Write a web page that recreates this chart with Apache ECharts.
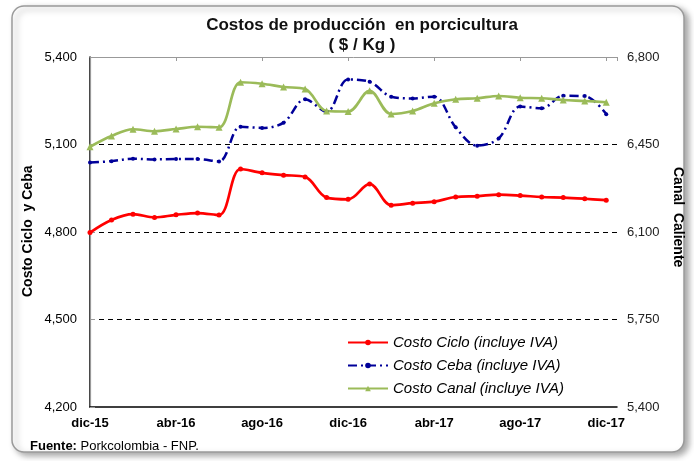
<!DOCTYPE html>
<html>
<head>
<meta charset="utf-8">
<script src="https://cdn.jsdelivr.net/npm/echarts@6/dist/echarts.min.js"></script>
<style>html,body{margin:0;padding:0;background:#fff;}#c{width:694px;height:461px;}</style>
</head>
<body>
<div id="c"></div>
<script>
const months = ['dic-15','ene-16','feb-16','mar-16','abr-16','may-16','jun-16','jul-16','ago-16','sep-16','oct-16','nov-16','dic-16','ene-17','feb-17','mar-17','abr-17','may-17','jun-17','jul-17','ago-17','sep-17','oct-17','nov-17','dic-17'];
const costoCiclo = [4798,4841,4861,4850,4859,4865,4858,5016,5003,4995,4989,4918,4912,4965,4892,4899,4904,4920,4923,4928,4925,4920,4918,4914,4909];
const costoCeba  = [5038,5043,5051,5049,5050,5050,5042,5161,5157,5175,5255,5212,5323,5315,5264,5258,5264,5159,5096,5121,5230,5224,5267,5266,5204];
const costoCanal = [6441,6484,6511,6503,6512,6521,6519,6699,6693,6680,6672,6584,6582,6665,6572,6584,6615,6631,6635,6644,6637,6635,6628,6624,6619];
const leftTicks = [4200,4500,4800,5100,5400];
const rightTicks = [5400,5750,6100,6450,6800];
const seriesNames = ['Costo Ciclo (incluye IVA)','Costo Ceba (incluye IVA)','Costo Canal (incluye IVA)'];

const pts = arr => arr.map((v,i)=>[i,v]);
const fmt = v => Number(v).toLocaleString('en-US');
const FONT = "'Liberation Sans', Arial, sans-serif";

const chart = echarts.init(document.getElementById('c'), null, {renderer:'canvas'});
chart.setOption({
  backgroundColor:'#fff',
  animation:false,
  title:{
    text:'Costos de producción  en porcicultura\n( $ / Kg )',
    left:357, top:10, textAlign:'center',
    textStyle:{fontFamily:FONT, fontWeight:'bold', fontSize:17, lineHeight:20, color:'#111'}
  },
  grid:{left:90, right:77, top:57, bottom:54},
  legend:{
    left:342, top:330, orient:'vertical', itemWidth:40, itemHeight:7, itemGap:8,
    data:seriesNames,
    textStyle:{fontFamily:FONT, fontStyle:'italic', fontSize:15, color:'#000', lineHeight:14}
  },
  xAxis:[{
    type:'value', min:0, max:24.5, interval:4, position:'bottom',
    axisLine:{show:true, lineStyle:{color:'#000', width:1.5}},
    axisTick:{show:false}, splitLine:{show:false},
    axisLabel:{margin:10, showMaxLabel:false, fontFamily:FONT, fontWeight:'bold', fontSize:13, color:'#000',
      formatter:v => (Number.isInteger(v) && v%4===0 && months[v]) ? months[v] : ''}
  },{
    type:'value', min:0, max:24.5, interval:4, position:'top',
    axisLine:{show:true, lineStyle:{color:'#999', width:1}},
    axisTick:{show:true, inside:true, length:4, lineStyle:{color:'#999'}},
    axisLabel:{show:false}, splitLine:{show:false}
  }],
  yAxis:[{
    type:'value', min:leftTicks[0], max:leftTicks[leftTicks.length-1], interval:300, position:'left',
    axisLine:{show:true, lineStyle:{color:'#000', width:1.5}},
    axisTick:{show:false},
    axisLabel:{margin:13, fontFamily:FONT, fontSize:13, color:'#000', formatter:fmt},
    splitLine:{show:true, showMinLine:false, showMaxLine:false, lineStyle:{color:'#000', type:[5,4], width:1.2}}
  },{
    type:'value', min:rightTicks[0], max:rightTicks[rightTicks.length-1], interval:350, position:'right',
    axisLine:{show:true, lineStyle:{color:'#999', width:1.2}},
    axisTick:{show:true, length:5, lineStyle:{color:'#999'}},
    axisLabel:{margin:10, fontFamily:FONT, fontSize:13, color:'#222', formatter:fmt},
    splitLine:{show:false}
  }],
  series:[{
    name:seriesNames[0], type:'line', xAxisIndex:0, yAxisIndex:0, data:pts(costoCiclo),
    smooth:0.35, symbol:'circle', symbolSize:5,
    lineStyle:{color:'#FF0000', width:2.7}, itemStyle:{color:'#FF0000'}
  },{
    name:seriesNames[1], type:'line', xAxisIndex:0, yAxisIndex:0, data:pts(costoCeba),
    smooth:0.35, symbol:'circle', symbolSize:4,
    lineStyle:{color:'#000099', width:2.5, type:[9,4,2,4]}, itemStyle:{color:'#000099'}
  },{
    name:seriesNames[2], type:'line', xAxisIndex:0, yAxisIndex:1, data:pts(costoCanal),
    smooth:0.35, symbol:'triangle', symbolSize:7,
    lineStyle:{color:'#9BBB59', width:2.7}, itemStyle:{color:'#9BBB59'}
  }],
  graphic:[{
    type:'rect', z:-10, silent:true,
    shape:{x:12, y:6, width:672, height:446, r:12},
    style:{fill:'#fff', stroke:'#9a9a9a', lineWidth:1.5, shadowBlur:6, shadowOffsetX:4, shadowOffsetY:3, shadowColor:'rgba(0,0,0,0.35)'}
  },{
    type:'text', rotation:Math.PI/2, silent:true,
    style:{text:'Costo Ciclo  y Ceba', font:"bold 14px 'Liberation Sans', Arial, sans-serif", fill:'#000'},
    x:21, y:297
  },{
    type:'text', silent:true, rotation:-Math.PI/2,
    x:685, y:167,
    style:{text:'Canal  Caliente', font:"bold 14px 'Liberation Sans', Arial, sans-serif", fill:'#000'}
  },{
    type:'text', silent:true, left:30, top:440,
    style:{rich:{b:{fontWeight:'bold', fontSize:13, fontFamily:FONT, fill:'#000'}, n:{fontSize:13, fontFamily:FONT, fill:'#000'}},
      text:'{b|Fuente:}{n| Porkcolombia - FNP.}'}
  }]
});
</script>
</body>
</html>
